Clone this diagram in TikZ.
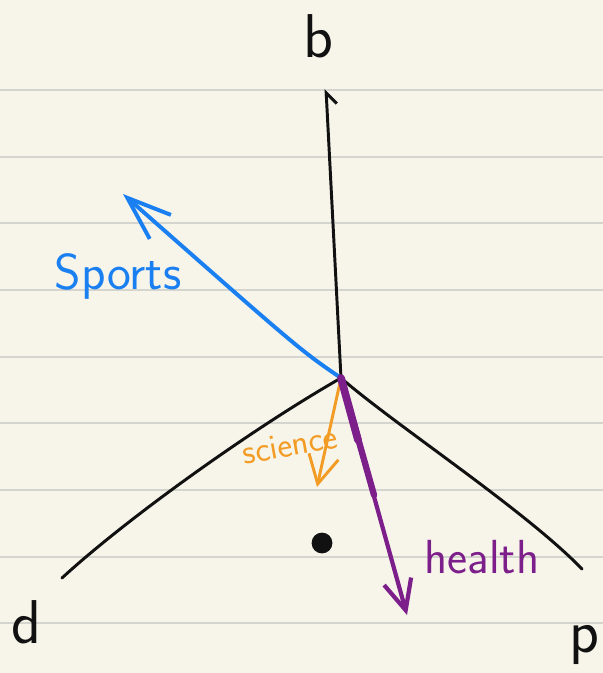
\documentclass[tikz,border=0pt]{standalone}
\usepackage{fontspec}
\usetikzlibrary{arrows.meta}
\definecolor{nbg}{HTML}{F7F5EA}
\definecolor{nrule}{HTML}{D5D5D0}
\definecolor{nink}{HTML}{111111}
\definecolor{nsport}{HTML}{1A80F2}
\definecolor{nsci}{HTML}{F39C25}
\definecolor{nhea}{HTML}{7D1F8A}
\tikzset{
  ink/.style={line width=2.1pt,line cap=round,line join=round},
  lab/.style={inner sep=0pt,anchor=base,font=\sffamily\fontsize{44}{44}\selectfont},
}

\begin{document}
\begin{tikzpicture}[x=0.025cm,y=-0.025cm]
  \fill[nbg] (0,0) rectangle (603,673);
  \useasboundingbox (0,0) rectangle (603,673);

  % Ruled paper
  \foreach \y in {90,157,223,290,357,423,490,557,623} {
    \draw[nrule,line width=1pt] (0,\y) -- (603,\y);
  }

  % Points
  \coordinate (o) at (341,378);
  \coordinate (btip) at (326,89);
  \coordinate (dend) at (62,578);
  \coordinate (pend) at (582,569);
  \coordinate (stip) at (123,194);
  \coordinate (ctip) at (317,487);
  \coordinate (htip) at (407,615);
  \coordinate (hmid) at (374,495);
  \coordinate (hup) at (358,440);

  % Axis labels
  \node[lab,nink] (b) at (318,57) {b};
  \node[lab,nink] (d) at (26,643) {d};
  \node[lab,nink] (p) at (584,652) {p};

  % Vertical axis
  \draw[ink,nink,-{Straight Barb[harpoon,swap,length=0.28cm,width=0.5cm]}] (o) -- (btip);

  % The two branches
  \draw[ink,nink] (o) .. controls (250,430) and (125,520) .. (dend);
  \draw[ink,nink] (o) .. controls (395,425) and (525,510) .. (pend);

  % Sports
  \draw[ink,nsport,line width=2.8pt,-{Straight Barb[length=1.1cm,width=0.8cm]}]
    (o) .. controls (300,350) .. (stip);
  \node[nsport,font=\sffamily\fontsize{36}{36}\selectfont,inner sep=0pt] (sports) at (118,276) {Sports};

  % Science
  \draw[ink,nsci,-{Straight Barb[length=0.7cm,width=0.75cm]}] (o) -- (ctip);
  \node[nsci,font=\sffamily\fontsize{25}{25}\selectfont,inner sep=0pt,rotate=10] (science) at (290,445) {science};

  % Health
  \draw[nhea,line width=5.5pt,line cap=round] (o) -- (hup);
  \draw[nhea,line width=4.5pt,line cap=round] (o) -- (hmid);
  \draw[ink,nhea,line width=3pt,-{Straight Barb[length=0.75cm,width=0.7cm]}] (o) -- (htip);
  \node[nhea,font=\sffamily\fontsize{34}{34}\selectfont,inner sep=0pt] (health) at (482,557) {health};

  % The point
  \node[circle,fill=nink,inner sep=0pt,minimum size=0.52cm] (pt) at (322,543) {};
\end{tikzpicture}
\end{document}
